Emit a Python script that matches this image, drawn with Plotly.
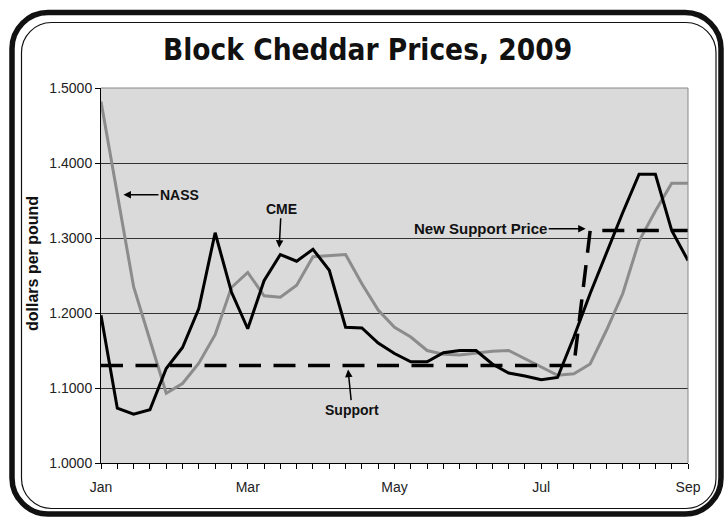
import plotly.graph_objects as go

# ---------------- data ----------------
weeks = list(range(37))
tick_labels = ["Jan", "", "", "", "", "", "", "", "",
               "Mar", "", "", "", "", "", "", "", "",
               "May", "", "", "", "", "", "", "", "",
               "Jul", "", "", "", "", "", "", "", "",
               "Sep"]
cme = [1.197, 1.073, 1.065, 1.071, 1.126, 1.154, 1.206, 1.307, 1.228, 1.179,
       1.243, 1.278, 1.269, 1.285, 1.257, 1.181, 1.180, 1.160, 1.146, 1.135,
       1.135, 1.147, 1.150, 1.150, 1.132, 1.120, 1.116, 1.111, 1.114, 1.168,
       1.226, 1.281, 1.334, 1.385, 1.385, 1.310, 1.270]
nass = [1.482, 1.357, 1.235, 1.164, 1.093, 1.106, 1.133, 1.171, 1.234, 1.254,
        1.223, 1.221, 1.237, 1.275, 1.277, 1.278, 1.239, 1.204, 1.181, 1.168,
        1.150, 1.145, 1.144, 1.147, 1.149, 1.150, 1.139, 1.128, 1.117, 1.119,
        1.132, 1.177, 1.226, 1.296, 1.336, 1.373, 1.373]
support = [1.13, 1.13, 1.13, 1.13, 1.13, 1.13, 1.13, 1.13, 1.13, 1.13,
           1.13, 1.13, 1.13, 1.13, 1.13, 1.13, 1.13, 1.13, 1.13, 1.13,
           1.13, 1.13, 1.13, 1.13, 1.13, 1.13, 1.13, 1.13, 1.13, 1.13,
           1.31, 1.31, 1.31, 1.31, 1.31, 1.31, 1.31]

# ---------------- geometry helpers ----------------
W, H = 726, 517
ML, MR, MT, MB = 101, 38, 88, 54
PW, PH = W - ML - MR, H - MT - MB


def px(x):
    return (x - ML) / PW


def py(y):
    return (H - MB - y) / PH


def rounded_path(x0, y0, x1, y1, r):
    k = 0.45
    pts = []
    pts.append(f"M {px(x0 + r)} {py(y0)}")
    pts.append(f"L {px(x1 - r)} {py(y0)}")
    pts.append(f"C {px(x1 - r * k)} {py(y0)} {px(x1)} {py(y0 + r * k)} {px(x1)} {py(y0 + r)}")
    pts.append(f"L {px(x1)} {py(y1 - r)}")
    pts.append(f"C {px(x1)} {py(y1 - r * k)} {px(x1 - r * k)} {py(y1)} {px(x1 - r)} {py(y1)}")
    pts.append(f"L {px(x0 + r)} {py(y1)}")
    pts.append(f"C {px(x0 + r * k)} {py(y1)} {px(x0)} {py(y1 - r * k)} {px(x0)} {py(y1 - r)}")
    pts.append(f"L {px(x0)} {py(y0 + r)}")
    pts.append(f"C {px(x0)} {py(y0 + r * k)} {px(x0 + r * k)} {py(y0)} {px(x0 + r)} {py(y0)}")
    pts.append("Z")
    return " ".join(pts)


fig = go.Figure()
fig.add_trace(go.Scatter(x=weeks, y=nass, mode="lines", name="NASS",
                         line=dict(color="#8c8c8c", width=3)))
fig.add_trace(go.Scatter(x=weeks, y=cme, mode="lines", name="CME",
                         line=dict(color="#000000", width=3)))
fig.add_trace(go.Scatter(x=weeks, y=support, mode="lines", name="Support",
                         line=dict(color="#000000", width=3.5, dash="22px,12.5px")))

tick_font = dict(family="Liberation Sans, Arial", size=14, color="#222222")
ann_font = dict(family="Liberation Sans, Arial", size=14, color="#111111")

fig.update_layout(
    width=W, height=H,
    margin=dict(l=ML, r=MR, t=MT, b=MB, pad=0),
    paper_bgcolor="white",
    plot_bgcolor="#dadada",
    showlegend=False,
    xaxis=dict(range=[0, 36], tickmode="array", tickvals=weeks, ticktext=tick_labels,
               ticks="outside", ticklen=5, tickcolor="black", tickwidth=1,
               ticklabelstandoff=6,
               showline=True, linecolor="black", linewidth=1,
               showgrid=False, zeroline=False, tickfont=tick_font, fixedrange=True),
    yaxis=dict(range=[1.0, 1.5], tick0=1.0, dtick=0.1, tickformat=".4f",
               ticks="outside", ticklen=5, tickcolor="black", tickwidth=1,
               showline=True, linecolor="black", linewidth=1,
               showgrid=True, gridcolor="#333333", gridwidth=1,
               zeroline=False, tickfont=tick_font, fixedrange=True),
)

shapes = [
    # plot border top/right gray
    dict(type="line", xref="paper", yref="paper", x0=0, x1=1, y0=1, y1=1,
         line=dict(color="#888888", width=1), layer="above"),
    dict(type="line", xref="paper", yref="paper", x0=1, x1=1, y0=0, y1=1,
         line=dict(color="#888888", width=1), layer="above"),
    # outer thick frame
    dict(type="path", xref="paper", yref="paper",
         path=rounded_path(12, 12.5, 721, 514, 36),
         line=dict(color="#111111", width=5.5), layer="above"),
    # inner thin frame
    dict(type="path", xref="paper", yref="paper",
         path=rounded_path(21.5, 22.5, 716, 508.5, 30),
         line=dict(color="#111111", width=1.2), layer="above"),
]
fig.update_layout(shapes=shapes)

annotations = [
    dict(text="<b>Block Cheddar Prices, 2009</b>", xref="paper", yref="paper",
         x=px(367), y=py(50), xanchor="center", yanchor="middle", showarrow=False,
         font=dict(family="DejaVu Sans Condensed", size=29.5, color="#111111")),
    dict(text="<b>dollars per pound</b>", xref="paper", yref="paper",
         x=px(32), y=py(264), xanchor="center", yanchor="middle", showarrow=False,
         textangle=-90, font=dict(family="Liberation Sans, Arial", size=16, color="#111111")),
    # NASS
    dict(text="<b>NASS</b>", x=(123 - 100.5) / 16.333, y=1 + (463.5 - 195) / 751,
         ax=56, ay=0, showarrow=True, arrowhead=2, arrowsize=1, arrowwidth=1.5,
         arrowcolor="black", font=ann_font),
    # CME
    dict(text="<b>CME</b>", x=(279 - 100.5) / 16.333, y=1 + (463.5 - 248) / 751,
         ax=2, ay=-39, showarrow=True, arrowhead=2, arrowsize=1, arrowwidth=1.5,
         arrowcolor="black", font=ann_font),
    # Support
    dict(text="<b>Support</b>", x=(348 - 100.5) / 16.333, y=1 + (463.5 - 370) / 751,
         ax=4, ay=40, showarrow=True, arrowhead=2, arrowsize=1, arrowwidth=1.5,
         arrowcolor="black", font=ann_font),
    # New Support Price
    dict(text="<b>New Support Price</b>", x=(586 - 100.5) / 16.333, y=1 + (463.5 - 229) / 751,
         ax=-105, ay=0, showarrow=True, arrowhead=2, arrowsize=1, arrowwidth=1.5,
         arrowcolor="black", font=dict(family="Liberation Sans, Arial", size=15, color="#111111")),
]
fig.update_layout(annotations=annotations)

fig.write_html("out.html")
